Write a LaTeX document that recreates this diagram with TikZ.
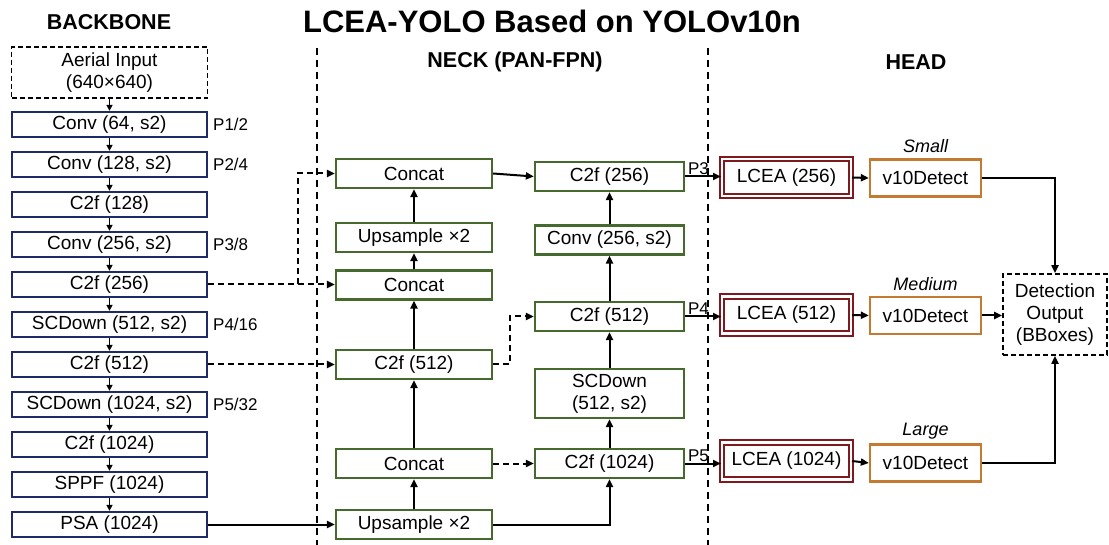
\documentclass[tikz,border=0pt]{standalone}
\usepackage{fontspec}
\setmainfont{Liberation Sans}
\usetikzlibrary{arrows.meta,calc}
\definecolor{bbnavy}{HTML}{1F2A68}
\definecolor{neckgreen}{HTML}{466A2E}
\definecolor{lcred}{HTML}{7E1A1E}
\definecolor{detorange}{HTML}{C47A30}
\tikzset{
 every node/.style={font=\fontsize{19}{22}\selectfont, inner sep=0pt},
 bbbox/.style={draw=bbnavy, line width=2.3pt, minimum width=195pt, minimum height=25pt},
 neckbox/.style={draw=neckgreen, line width=2.3pt, minimum height=29pt},
 lceabox/.style={draw=lcred, line width=2pt, double=white, double distance=2.6pt, minimum width=129pt, minimum height=37pt},
 detbox/.style={draw=detorange, line width=2.3pt, minimum width=111pt, minimum height=37pt},
 dashbox/.style={draw=black, line width=1.8pt, dash pattern=on 5pt off 3pt, align=center},
 arr/.style={line width=2pt, -{Triangle[length=8pt,width=7pt]}},
 darr/.style={arr, dash pattern=on 6pt off 4pt},
 divider/.style={line width=1.5pt, dash pattern=on 7pt off 5pt},
 plabel/.style={font=\fontsize{17}{20}\selectfont},
 heading/.style={font=\bfseries\fontsize{21.5}{24}\selectfont},
 scalelabel/.style={font=\itshape\fontsize{18}{20}\selectfont},
}
\begin{document}
\begin{tikzpicture}[x=1pt,y=-1pt]
\useasboundingbox (0,0) rectangle (1109,545);
% titles
\node[font=\bfseries\fontsize{31}{34}\selectfont] (title) at (552,21) {LCEA-YOLO Based on YOLOv10n};
\node[heading] (hb) at (109,22) {BACKBONE};
\node[heading] (hn) at (515,62) {NECK (PAN-FPN)};
\node[heading] (hh) at (916,62) {HEAD};
% dividers
\coordinate (d1t) at (317,48); \coordinate (d1b) at (317,545);
\coordinate (d2t) at (708,48); \coordinate (d2b) at (708,545);
\draw[divider] (d1t) -- (d1b);
\draw[divider] (d2t) -- (d2b);
% backbone
\node[dashbox, minimum width=196pt, minimum height=51pt] (inp) at (109.5,72.5) {Aerial Input\\(640×640)};
\node[bbbox] (b1) at (109.5,124.5) {Conv (64, s2)};
\node[bbbox] (b2) at (109.5,164.5) {Conv (128, s2)};
\node[bbbox] (b3) at (109.5,204.5) {C2f (128)};
\node[bbbox] (b4) at (109.5,244.5) {Conv (256, s2)};
\node[bbbox] (b5) at (109.5,284.5) {C2f (256)};
\node[bbbox] (b6) at (109.5,324.5) {SCDown (512, s2)};
\node[bbbox] (b7) at (109.5,364.5) {C2f (512)};
\node[bbbox] (b8) at (109.5,404.5) {SCDown (1024, s2)};
\node[bbbox] (b9) at (109.5,444.5) {C2f (1024)};
\node[bbbox] (b10) at (109.5,484.5) {SPPF (1024)};
\node[bbbox] (b11) at (109.5,524.5) {PSA (1024)};
\foreach \a/\b in {inp/b1,b1/b2,b2/b3,b3/b4,b4/b5,b5/b6,b6/b7,b7/b8,b8/b9,b9/b10,b10/b11}
  \draw[line width=1.8pt, -{Triangle[length=6pt,width=6pt]}] (\a.south) -- (\b.north);
\node[plabel, anchor=west] (p12) at (213,124.5) {P1/2};
\node[plabel, anchor=west] (p24) at (213,164.5) {P2/4};
\node[plabel, anchor=west] (p38) at (213,244.5) {P3/8};
\node[plabel, anchor=west] (p416) at (213,324.5) {P4/16};
\node[plabel, anchor=west] (p532) at (213,404.5) {P5/32};
% neck left column
\node[neckbox, minimum width=156pt] (ncat1) at (414,173.5) {Concat};
\node[neckbox, minimum width=156pt] (nup1) at (414,237.5) {Upsample ×2};
\node[neckbox, minimum width=156pt] (ncat2) at (414,285) {Concat};
\node[neckbox, minimum width=156pt] (nc2fL) at (414,364.5) {C2f (512)};
\node[neckbox, minimum width=156pt] (ncat3) at (414,463.5) {Concat};
\node[neckbox, minimum width=156pt] (nup2) at (414,524.5) {Upsample ×2};
% neck right column
\node[neckbox, minimum width=149pt] (nc256) at (609.5,176.5) {C2f (256)};
\node[neckbox, minimum width=149pt] (nconv) at (609.5,240) {Conv (256, s2)};
\node[neckbox, minimum width=149pt] (nc512) at (609.5,316.5) {C2f (512)};
\node[neckbox, minimum width=149pt, minimum height=49pt, align=center] (nscd) at (609.5,393.5) {SCDown\\(512, s2)};
\node[neckbox, minimum width=149pt] (nc1024) at (609.5,463.5) {C2f (1024)};
% neck connections
\coordinate (j1) at (298,284.5);
\draw[darr] (b5.east) -- (j1) |- (ncat1.west);
\draw[darr] (b5.east) -- (b5.east -| ncat2.west);
\draw[darr] (b7.east) -- (nc2fL.west);
\draw[arr] (b11.east) -- (nup2.west);
\draw[arr] (nup2.north) -- (ncat3.south);
\draw[arr] (ncat3.north) -- (nc2fL.south);
\draw[arr] (nc2fL.north) -- (ncat2.south);
\draw[arr] (ncat2.north) -- (nup1.south);
\draw[arr] (nup1.north) -- (ncat1.south);
\draw[arr] (ncat1.east) -- (nc256.west);
\draw[arr] (nup2.east) -| (nc1024.south);
\draw[darr] (ncat3.east) -- (nc1024.west);
\draw[darr] (nc2fL.east) -- ++(17,0) |- (nc512.west);
\draw[arr] (nc1024.north) -- (nscd.south);
\draw[arr] (nscd.north) -- (nc512.south);
\draw[arr] (nc512.north) -- (nconv.south);
\draw[arr] (nconv.north) -- (nc256.south);
% head
\node[lceabox] (l1) at (786.5,177.5) {LCEA (256)};
\node[lceabox] (l2) at (786.5,315) {LCEA (512)};
\node[lceabox] (l3) at (786.5,461) {LCEA (1024)};
\node[detbox] (v1) at (925.5,178) {v10Detect};
\node[detbox] (v2) at (925.5,315.5) {v10Detect};
\node[detbox] (v3) at (925.5,463) {v10Detect};
\node[scalelabel] (sl) at (925.5,146) {Small};
\node[scalelabel] (sm) at (925.5,284) {Medium};
\node[scalelabel] (sg) at (925.5,431) {Large};
\node[dashbox, minimum width=104pt, minimum height=81pt] (det) at (1055,314.5) {Detection\\Output\\(BBoxes)};
\draw[arr] (nc256.east) -- node[plabel, anchor=south west, pos=0, xshift=2pt, yshift=1pt] {P3} (nc256.east -| l1.west);
\draw[arr] (nc512.east) -- node[plabel, anchor=south west, pos=0, xshift=2pt, yshift=1pt] {P4} (nc512.east -| l2.west);
\draw[arr] (nc1024.east) -- node[plabel, anchor=south west, pos=0, xshift=2pt, yshift=1pt] {P5} (nc1024.east -| l3.west);
\draw[arr] (l1.east) -- (v1.west);
\draw[arr] (l2.east) -- (v2.west);
\draw[arr] (l3.east) -- (v3.west);
\draw[arr] (v1.east) -| (det.north);
\draw[arr] (v2.east) -- (v2.east -| det.west);
\draw[arr] (v3.east) -| (det.south);
\end{tikzpicture}
\end{document}
